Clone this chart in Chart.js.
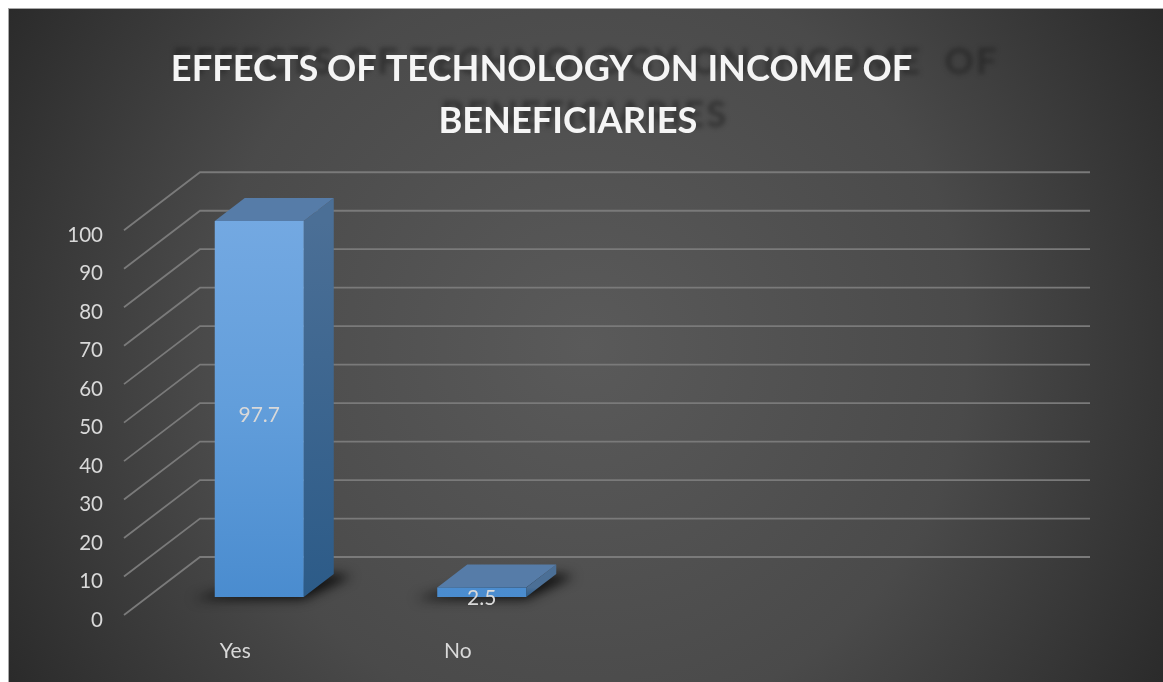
<!DOCTYPE html>
<html>
<head>
<meta charset="utf-8">
<title>Effects of technology on income of beneficiaries</title>
<script src="https://cdn.jsdelivr.net/npm/chart.js@4/dist/chart.umd.min.js"></script>
<style>
  html, body { margin: 0; padding: 0; background: #fff; }
  #wrap { width: 1163px; height: 682px; }
</style>
</head>
<body>
<div id="wrap"><canvas id="chart" width="1163" height="682"></canvas></div>
<script>
const categories = ['Yes', 'No', '', ''];
const values = [97.7, 2.5, null, null];
const titleLines = ['EFFECTS OF TECHNOLOGY ON INCOME OF', 'BENEFICIARIES'];
const yMin = 0;
const yMax = 100;
const yStep = 10;

// depth of the fake 3d box, relative to the plane the bars stand on
const wallDx = 52, wallDy = 40;
const floorDx = 24, floorDy = 18;
const barDx = 30, barDy = 23;
const panel = { x: 9, y: 9, w: 1154, h: 673 };

const poly = (ctx, pts, fill) => {
  ctx.beginPath();
  pts.forEach((p, i) => (i ? ctx.lineTo(p[0], p[1]) : ctx.moveTo(p[0], p[1])));
  ctx.closePath();
  ctx.fillStyle = fill;
  ctx.fill();
};

const backdrop = {
  id: 'backdrop',
  beforeDraw(chart) {
    const { ctx } = chart;
    const cx = panel.x + panel.w / 2, cy = panel.y + panel.h / 2;
    const g = ctx.createRadialGradient(cx, cy, 0, cx, cy, panel.w * 0.6);
    g.addColorStop(0, '#5a5a5a');
    g.addColorStop(0.55, '#4a4a4a');
    g.addColorStop(1, '#282828');
    ctx.save();
    ctx.fillStyle = '#fff';
    ctx.fillRect(0, 0, chart.width, chart.height);
    ctx.fillStyle = '#a8a8a8';
    ctx.fillRect(panel.x - 1, panel.y - 1, panel.w + 1, panel.h + 1);
    ctx.fillStyle = g;
    ctx.fillRect(panel.x, panel.y, panel.w, panel.h);

    // blurred dark copy of the heading sits behind the white one
    ctx.filter = 'blur(2.5px)';
    ctx.fillStyle = 'rgba(30,30,30,0.6)';
    ctx.font = 'bold 36px Lato';
    ctx.textAlign = 'left';
    ctx.textBaseline = 'alphabetic';
    if ('letterSpacing' in ctx) ctx.letterSpacing = '2.3px';
    ctx.fillText('EFFECTS OF TECHNOLOGY ON INCOME  OF', 172, 74);
    ctx.fillText(titleLines[1], 441, 127);
    ctx.restore();
  }
};

const box3d = {
  id: 'box3d',
  beforeDatasetsDraw(chart) {
    const { ctx, scales } = chart;
    const y = scales.y;
    const left = scales.x.left;
    const right = scales.x.right;
    ctx.save();
    // side wall and back wall grid
    ctx.strokeStyle = '#7a7a7a';
    ctx.lineWidth = 1.8;
    y.ticks.forEach((t) => {
      const py = y.getPixelForValue(t.value);
      ctx.beginPath();
      ctx.moveTo(left - floorDx, py + floorDy);
      ctx.lineTo(left + wallDx, py - wallDy);
      ctx.lineTo(right + wallDx, py - wallDy);
      ctx.stroke();
    });
    // floor shadows, then top and side faces of each bar
    chart.getDatasetMeta(0).data.forEach((bar, i) => {
      if (values[i] == null) return;
      const x0 = bar.x - bar.width / 2, x1 = bar.x + bar.width / 2;
      ctx.save();
      ctx.filter = 'blur(6px)';
      poly(ctx, [[x0 - 22, bar.base + 2], [x1, bar.base + 2], [x1 + barDx + 18, bar.base - barDy + 2], [x1 + barDx, bar.base - barDy], [x0, bar.base - 4]], 'rgba(8,8,8,0.95)');
      ctx.restore();
      const side = ctx.createLinearGradient(0, bar.y, 0, bar.base);
      side.addColorStop(0, '#4b6f96');
      side.addColorStop(1, '#2c5b88');
      poly(ctx, [[x1, bar.y], [x1 + barDx, bar.y - barDy], [x1 + barDx, bar.base - barDy], [x1, bar.base]], side);
      poly(ctx, [[x0, bar.y], [x0 + barDx, bar.y - barDy], [x1 + barDx, bar.y - barDy], [x1, bar.y]], '#567ca8');
    });
    ctx.restore();
  },
  afterDatasetsDraw(chart) {
    const { ctx } = chart;
    ctx.save();
    ctx.fillStyle = '#d9d9d9';
    ctx.font = '21px Lato';
    ctx.textAlign = 'center';
    ctx.textBaseline = 'middle';
    chart.getDatasetMeta(0).data.forEach((bar, i) => {
      if (values[i] == null) return;
      ctx.fillText(String(values[i]), bar.x, (bar.y + bar.base) / 2 + 6);
    });
    ctx.restore();
  }
};

// front faces fade from light blue at the top of the range to a deeper blue at zero
const faceFill = (context) => {
  const { ctx, chartArea } = context.chart;
  if (!chartArea) return '#629edb';
  const g = ctx.createLinearGradient(0, chartArea.top, 0, chartArea.bottom);
  g.addColorStop(0, '#74a9e2');
  g.addColorStop(0.5, '#629edb');
  g.addColorStop(1, '#4a8ccf');
  return g;
};

new Chart(document.getElementById('chart'), {
  type: 'bar',
  data: {
    labels: categories,
    datasets: [{
      data: values,
      backgroundColor: faceFill,
      categoryPercentage: 1,
      barPercentage: 0.4
    }]
  },
  plugins: [backdrop, box3d],
  options: {
    responsive: false,
    animation: false,
    layout: { padding: { top: 20, left: 45, right: 125, bottom: 10 } },
    plugins: {
      legend: { display: false },
      tooltip: { enabled: false },
      title: {
        display: true,
        // the second line sits right of the first one's centre
        text: [titleLines[0], '\u00a0'.repeat(6) + titleLines[1]],
        color: '#f5f5f5',
        align: 'center',
        font: { family: 'Lato', size: 36.2, weight: 'bold', lineHeight: 1.44 },
        padding: { top: 23.5, bottom: 64.5 }
      }
    },
    scales: {
      x: {
        grid: { display: false },
        border: { display: false },
        afterFit(scale) { scale.height = 75; },
        ticks: { color: '#d9d9d9', font: { family: 'Lato', size: 21 }, padding: 34, labelOffset: -floorDx, maxRotation: 0 }
      },
      y: {
        min: yMin,
        max: yMax,
        grid: { display: false },
        border: { display: false },
        afterFit(scale) { scale.width = 103; },
        ticks: { stepSize: yStep, color: '#d9d9d9', font: { family: 'Lato', size: 20.5 }, padding: 37, labelOffset: floorDy + 5 }
      }
    }
  }
});
</script>
</body>
</html>
